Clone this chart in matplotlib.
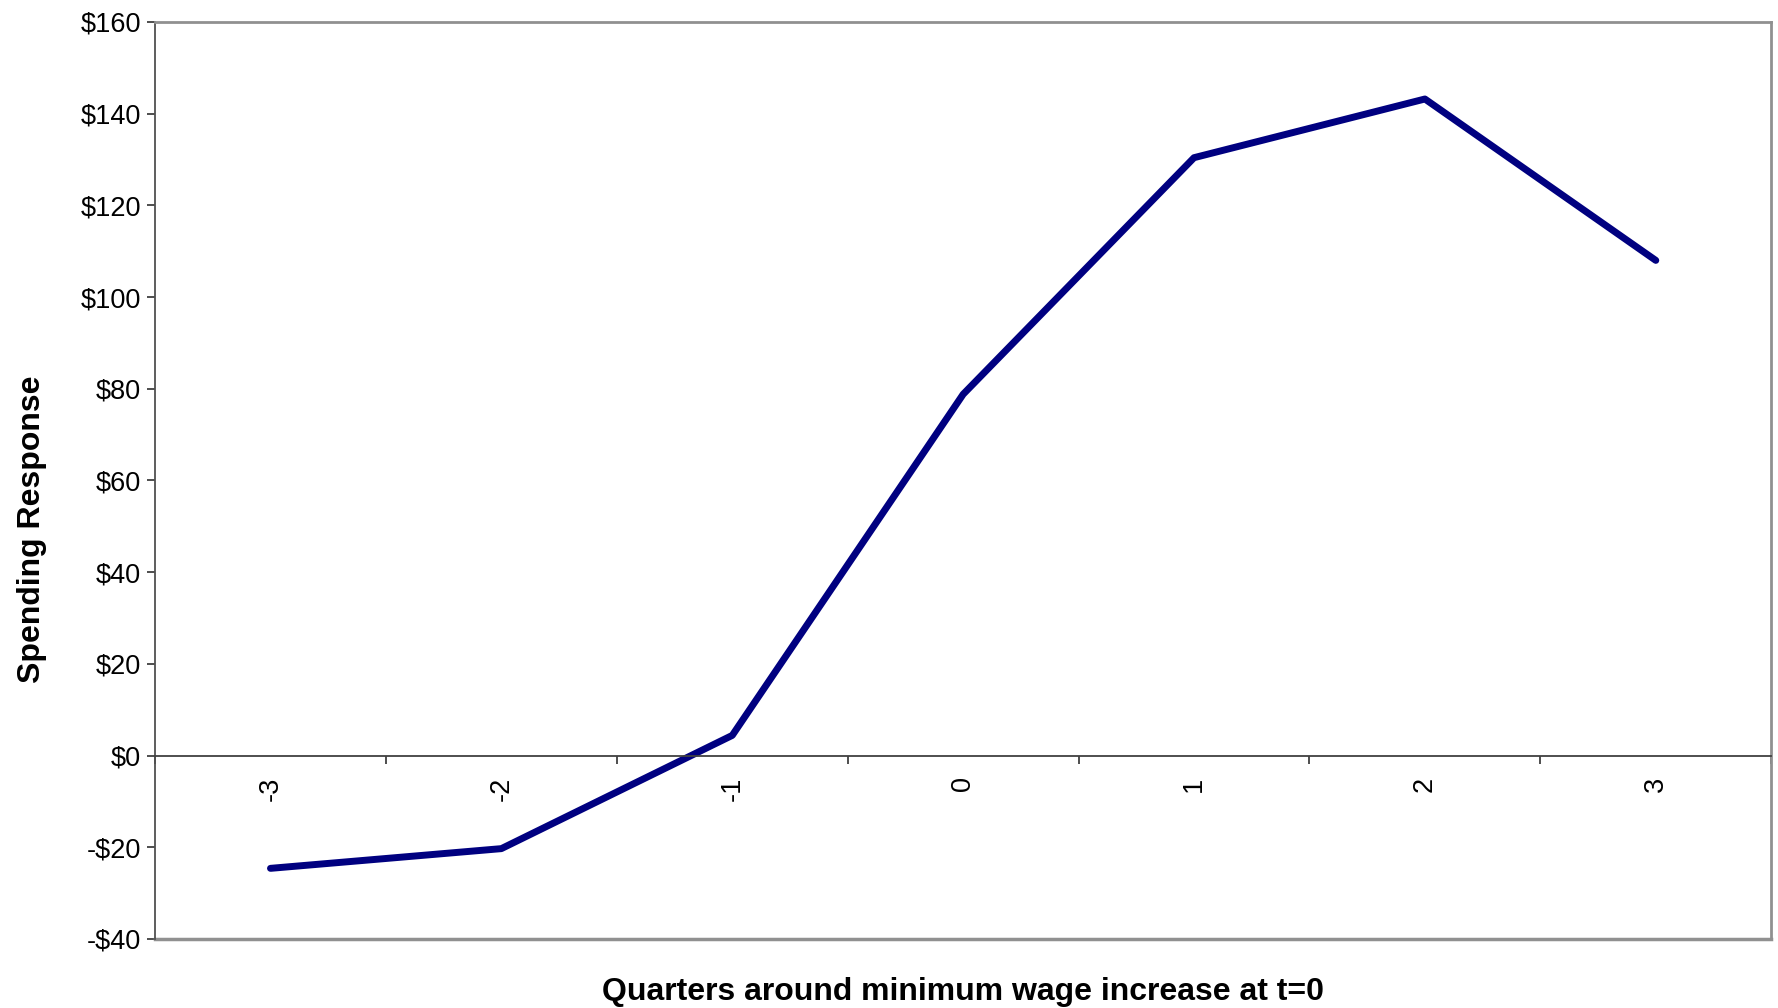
import matplotlib
matplotlib.use("Agg")
import matplotlib.pyplot as plt
from matplotlib.ticker import FuncFormatter, FixedLocator

plt.rcParams['font.family'] = ['Liberation Sans', 'DejaVu Sans']

# quarters around the minimum wage increase
quarters = [-3, -2, -1, 0, 1, 2, 3]
spending = [-24.6, -20.3, 4.4, 78.8, 130.4, 143.2, 108.0]

fig = plt.figure(figsize=(17.78, 10.08), dpi=100)
ax = fig.add_axes([0.0872, 0.0685, 0.909, 0.9097])

ax.plot(quarters, spending, color='#000080', lw=5,
        solid_capstyle='round', solid_joinstyle='round')

ax.set_xlim(-3.5, 3.5)
ax.set_ylim(-40, 160)
ax.set_yticks(range(-40, 161, 20))
ax.yaxis.set_major_formatter(FuncFormatter(
    lambda v, p: f"-${abs(v):.0f}" if v < 0 else f"${v:.0f}"))

# x axis sits on the zero line, ticks between categories
ax.spines['bottom'].set_position(('data', 0))
ax.spines['bottom'].set_color('#404040')
ax.spines['left'].set_color('#505050')
ax.spines['top'].set_color('#909090')
ax.spines['right'].set_color('#909090')
for s in ['bottom', 'left']:
    ax.spines[s].set_linewidth(1.3)
for s in ['top', 'right']:
    ax.spines[s].set_linewidth(2)
ax.axhline(-40, color='#909090', lw=2.5, clip_on=False)

ax.xaxis.set_major_locator(FixedLocator([q + 0.5 for q in [-4] + quarters]))
ax.xaxis.set_minor_locator(FixedLocator(quarters))
ax.set_xticklabels([])
ax.set_xticklabels([str(q) for q in quarters], minor=True)
ax.tick_params(axis='x', which='major', direction='out', length=6,
               width=1.3, color='#404040')
ax.tick_params(axis='x', which='minor', length=0, pad=15, labelsize=19.5,
               labelrotation=90)
for lbl in ax.get_xticklabels(minor=True):
    lbl.set_va('top')
ax.tick_params(axis='y', direction='out', length=6, width=1.3,
               color='#404040', labelsize=19.5, pad=4)

ax.set_xlabel('Quarters around minimum wage increase at t=0',
              fontsize=23, fontweight='bold')
ax.set_ylabel('Spending Response', fontsize=23, fontweight='bold')
ax.xaxis.set_label_coords(0.5, -0.041)
ax.yaxis.set_label_coords(-0.067, 0.447)

fig.savefig('out.png', dpi=100)
